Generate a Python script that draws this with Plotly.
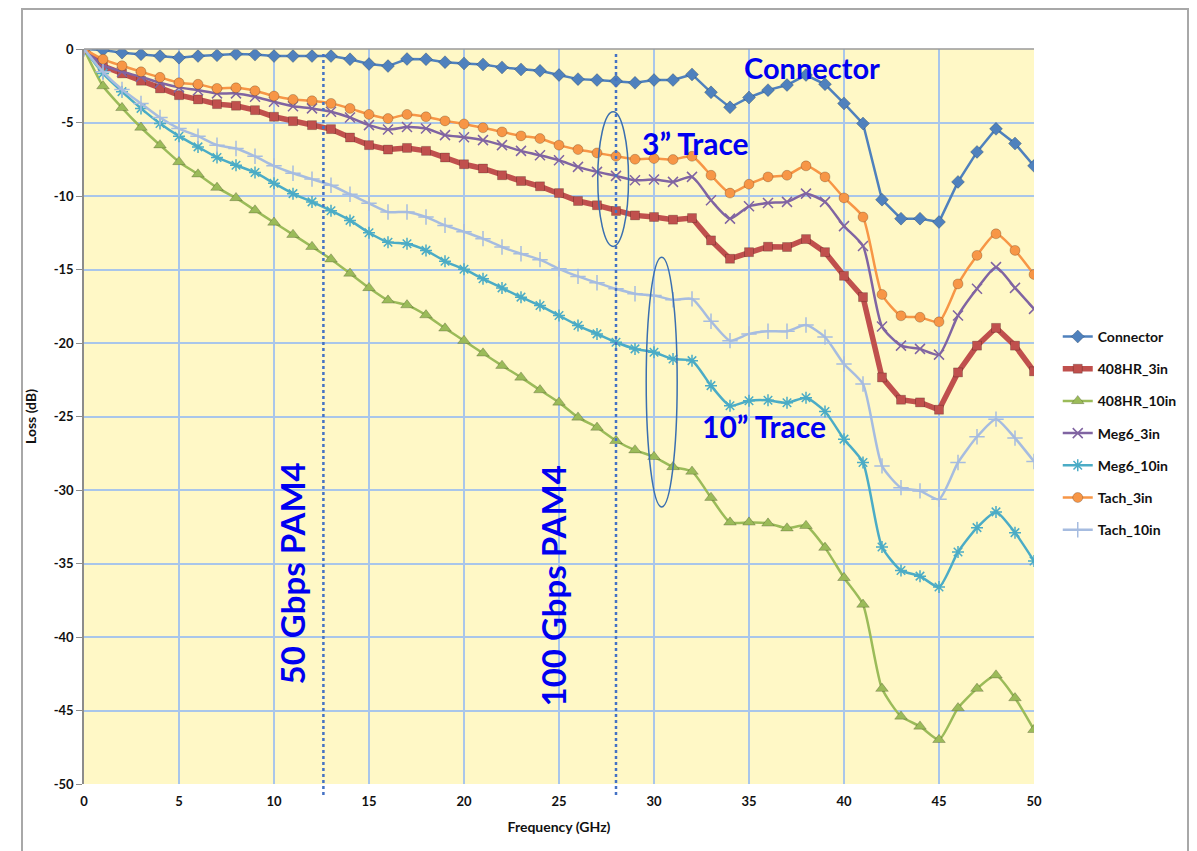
import plotly.graph_objects as go

freq = list(range(0, 51))

connector = [0, -0.07, -0.25, -0.36, -0.48, -0.59, -0.48, -0.43, -0.34, -0.38, -0.48, -0.48, -0.48, -0.48,
             -0.7, -1.02, -1.16, -0.68, -0.7, -0.9, -0.98, -1.05, -1.25, -1.39, -1.48, -1.77, -2.05, -2.11,
             -2.18, -2.3, -2.11, -2.11, -1.73, -2.95, -3.97, -3.3, -2.8, -2.45, -1.77, -2.4, -3.7, -5.07,
             -10.25, -11.54, -11.54, -11.77, -9.04, -7.0, -5.43, -6.43, -7.95]
hr408_3in = [0, -1.16, -1.66, -2.16, -2.68, -3.14, -3.43, -3.75, -3.86, -4.16, -4.61, -4.91, -5.18, -5.45,
             -6.02, -6.54, -6.84, -6.73, -6.93, -7.38, -7.84, -8.13, -8.59, -8.98, -9.34, -9.8, -10.34,
             -10.63, -11.02, -11.32, -11.43, -11.61, -11.5, -13.02, -14.27, -13.82, -13.45, -13.47, -12.93,
             -13.82, -15.43, -16.88, -22.34, -23.86, -24.04, -24.54, -22.0, -20.18, -18.97, -20.18, -21.93]
hr408_10in = [0, -2.52, -4.0, -5.34, -6.54, -7.68, -8.52, -9.43, -10.13, -10.97, -11.8, -12.63, -13.45,
              -14.3, -15.27, -16.25, -17.1, -17.42, -18.1, -19.0, -19.84, -20.7, -21.54, -22.34, -23.2,
              -24.04, -25.06, -25.75, -26.65, -27.29, -27.74, -28.43, -28.74, -30.52, -32.2, -32.2, -32.27,
              -32.6, -32.43, -33.92, -35.97, -37.79, -43.51, -45.4, -46.08, -46.99, -44.83, -43.51, -42.6,
              -44.15, -46.31]
meg6_3in = [0, -1.09, -1.55, -1.89, -2.3, -2.61, -2.8, -3.02, -3.02, -3.25, -3.59, -3.89, -4.04, -4.27,
            -4.66, -5.18, -5.48, -5.3, -5.41, -5.86, -6.0, -6.2, -6.54, -6.93, -7.23, -7.57, -8.02, -8.36,
            -8.63, -8.93, -8.88, -9.04, -8.7, -10.29, -11.54, -10.7, -10.47, -10.4, -9.84, -10.4, -12.05,
            -13.4, -18.88, -20.18, -20.4, -20.79, -18.13, -16.31, -14.84, -16.25, -17.68]
meg6_10in = [0, -1.66, -2.9, -4.04, -5.07, -5.93, -6.66, -7.38, -7.91, -8.4, -9.13, -9.84, -10.4, -11.0,
             -11.66, -12.5, -13.14, -13.25, -13.7, -14.44, -14.98, -15.63, -16.25, -16.88, -17.45, -18.13,
             -18.81, -19.38, -19.95, -20.4, -20.63, -21.09, -21.2, -22.9, -24.27, -23.93, -23.9, -24.07,
             -23.72, -24.66, -26.54, -28.13, -33.88, -35.47, -35.86, -36.6, -34.22, -32.56, -31.49, -32.9,
             -34.83]
tach_3in = [0, -0.7, -1.14, -1.55, -1.93, -2.3, -2.4, -2.68, -2.64, -2.84, -3.2, -3.43, -3.52, -3.7, -4.04,
            -4.45, -4.73, -4.45, -4.61, -4.89, -5.1, -5.36, -5.64, -5.91, -6.09, -6.54, -6.84, -7.07, -7.3,
            -7.5, -7.45, -7.52, -7.3, -8.59, -9.8, -9.2, -8.7, -8.59, -7.95, -8.7, -10.13, -11.43, -16.7,
            -18.15, -18.25, -18.56, -15.98, -14.04, -12.57, -13.7, -15.34]
tach_10in = [0, -1.55, -2.75, -3.7, -4.66, -5.41, -5.93, -6.54, -6.77, -7.3, -7.95, -8.45, -8.85, -9.27,
             -9.88, -10.5, -11.09, -11.09, -11.43, -12.0, -12.43, -12.9, -13.47, -13.93, -14.33, -14.95,
             -15.47, -15.9, -16.31, -16.65, -16.77, -17.06, -17.0, -18.52, -19.84, -19.38, -19.2, -19.2,
             -18.78, -19.6, -21.43, -22.79, -28.36, -29.84, -30.06, -30.63, -28.13, -26.38, -25.18, -26.47,
             -28.06]

x_ticks = list(range(0, 51, 5))
y_ticks = list(range(-50, 1, 5))

pam4_freqs = [12.6, 28.0]
pam4_labels = ["50 Gbps PAM4", "100 Gbps PAM4"]

FONT = "Lato, 'Open Sans', sans-serif"
BLUE_TXT = "#0000F0"

series = [
    ("Connector", connector, "#4F81BD", "diamond", 10, 2.5, "linear"),
    ("408HR_3in", hr408_3in, "#C0504D", "square", 9, 5.5, "linear"),
    ("408HR_10in", hr408_10in, "#9BBB59", "triangle-up", 11, 2.5, "spline"),
    ("Meg6_3in", meg6_3in, "#8064A2", "x-thin-open", 10, 2.5, "spline"),
    ("Meg6_10in", meg6_10in, "#4BACC6", "asterisk-open", 10, 2.5, "spline"),
    ("Tach_3in", tach_3in, "#F79646", "circle", 10, 2.5, "spline"),
    ("Tach_10in", tach_10in, "#A6BCE0", "cross-thin-open", 11, 2.5, "spline"),
]

fig = go.Figure()
for i, (name, vals, col, sym, size, lw, shape) in enumerate(series):
    open_sym = sym.endswith("open")
    marker = dict(symbol=sym, size=size, color=col)
    if open_sym:
        marker["line"] = dict(color=col, width=1.5)
    else:
        marker["line"] = dict(color="rgba(0,0,0,0.25)", width=0.8)
    line = dict(color=col, width=lw, shape=shape)
    if shape == "spline":
        line["smoothing"] = 0.6
    fig.add_trace(go.Scatter(x=freq, y=vals, mode="lines+markers", name="<b>" + name + "</b>",
                             line=line, marker=marker, legendgroup=name))

# plot area: 950 x 735 px, figure placed at page offset (8, 8)
PW, PH = 950.0, 735.0
shapes = []
for f in pam4_freqs:
    shapes.append(dict(type="line", xref="x", yref="paper", x0=f, x1=f, y0=-11 / PH, y1=1 - 3 / PH,
                       line=dict(color="#4472C4", width=2.5, dash="dot"), layer="above"))
# ellipses
shapes.append(dict(type="circle", xref="x", yref="y", x0=27.04, x1=28.66, y0=-4.27, y1=-13.43,
                   line=dict(color="#3A6FB0", width=1.5), layer="above"))
shapes.append(dict(type="circle", xref="x", yref="y", x0=29.59, x1=31.22, y0=-14.16, y1=-31.15,
                   line=dict(color="#3A6FB0", width=1.5), layer="above"))
# plot top border
shapes.append(dict(type="line", xref="paper", yref="paper", x0=0, x1=1, y0=1, y1=1,
                   line=dict(color="#9A9A9A", width=1.5)))
# outer chart border
shapes.append(dict(type="rect", xref="paper", yref="paper", x0=-62 / PW, x1=1104 / PW,
                   y0=-90 / PH, y1=1 + 40 / PH, line=dict(color="#A8A8A8", width=2)))

annotations = [
    dict(x=38.3, y=-1.23, text="<b>Connector</b>", showarrow=False,
         font=dict(size=29, color=BLUE_TXT, family=FONT)),
    dict(x=32.2, y=-6.4, text="<b>3” Trace</b>", showarrow=False,
         font=dict(size=30, color=BLUE_TXT, family=FONT)),
    dict(x=35.8, y=-25.63, text="<b>10” Trace</b>", showarrow=False,
         font=dict(size=30, color=BLUE_TXT, family=FONT)),
    dict(x=10.97, y=-35.65, text="<b>" + pam4_labels[0] + "</b>", showarrow=False, textangle=-90,
         font=dict(size=33, color=BLUE_TXT, family=FONT)),
    dict(x=24.68, y=-36.5, text="<b>" + pam4_labels[1] + "</b>", showarrow=False, textangle=-90,
         font=dict(size=33, color=BLUE_TXT, family=FONT)),
]

fig.update_layout(
    width=1189, height=843,
    margin=dict(l=76, r=163, t=41, b=67),
    paper_bgcolor="white",
    plot_bgcolor="#FFF8C6",
    font=dict(family=FONT, size=13, color="#111111"),
    shapes=shapes,
    annotations=annotations,
    showlegend=True,
    legend=dict(x=1.025, y=0.477, xanchor="left", yanchor="middle",
                font=dict(size=14, family=FONT, color="#111111"),
                tracegroupgap=11, itemwidth=30, bgcolor="rgba(0,0,0,0)"),
    xaxis=dict(range=[0, 50], tickvals=x_ticks, ticktext=["<b>%d</b>" % v for v in x_ticks],
               showgrid=True, gridcolor="#A9C6EA", gridwidth=1.5, zeroline=False,
               showline=False, ticks="", tickfont=dict(size=13, family=FONT), ticklabelstandoff=8,
               title=dict(text="<b>Frequency (GHz)</b>", font=dict(size=14, family=FONT), standoff=14)),
    yaxis=dict(range=[-50, 0], tickvals=y_ticks, ticktext=["<b>%d</b>" % v for v in y_ticks],
               showgrid=True, gridcolor="#A9C6EA", gridwidth=1.5, zeroline=False,
               showline=True, linecolor="#8C8C8C", linewidth=1.5, ticks="outside", ticklen=6,
               tickcolor="#8C8C8C", tickfont=dict(size=13, family=FONT),
               title=dict(text="<b>Loss (dB)</b>", font=dict(size=14, family=FONT), standoff=14)),
)

fig.write_html("out.html")
